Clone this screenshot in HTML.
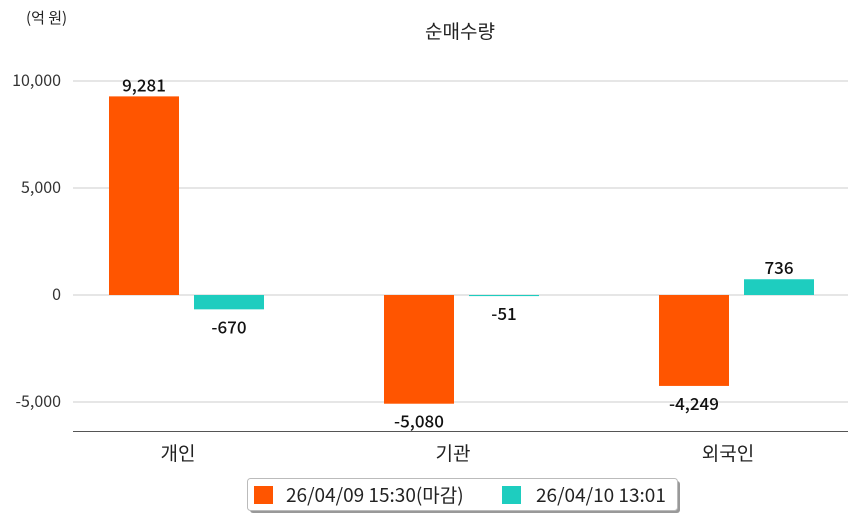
<!DOCTYPE html>
<html><head><meta charset="utf-8"><style>
body{margin:0;background:#fff;}
svg{font-family:"Noto Sans CJK KR","Liberation Sans",sans-serif;display:block}
</style></head><body>
<svg id="c" width="858" height="520"></svg>
<script>
const categories=["개인","기관","외국인"];
const series1=[9281,-5080,-4249];
const series2=[-670,-51,736];
const yTicks=[10000,5000,0,-5000];
const yTickLabels=["10,000","5,000","0","-5,000"];
const svg=document.getElementById('c');
const NS='http://www.w3.org/2000/svg';
function y(v){return 295-v*(214/10000);}
function cx(i){return 186+275*i;}
function mk(t,a,txt){const e=document.createElementNS(NS,t);for(const k in a)e.setAttribute(k,a[k]);if(txt!==undefined)e.textContent=txt;svg.appendChild(e);return e;}
function fmt(v){return v.toLocaleString('en-US');}
let e;
e=mk('text',{x:460,y:38,'text-anchor':'middle','font-size':19,fill:'#222'},'순매수량');


e=mk('text',{x:26,y:23,'font-size':15,fill:'#222'},'(억 원)');


yTicks.forEach((t,i)=>{
 e=mk('line',{x1:73,x2:848,y1:y(t),y2:y(t),stroke:'#cccccc','stroke-width':1});
 
 
 e=mk('text',{x:61,y:y(t)+5,'text-anchor':'end','font-size':16,fill:'#333'},yTickLabels[i]);
 
 
});
e=mk('line',{x1:73,x2:848,y1:431.5,y2:431.5,stroke:'#555','stroke-width':1});


categories.forEach((c,i)=>{
 const vals=[series1[i],series2[i]],cols=['#ff5500','#1ecdbf'],xs=[cx(i)-77,cx(i)+8];
 vals.forEach((v,j)=>{
  const top=Math.min(y(v),y(0)),h=Math.max(Math.abs(y(v)-y(0)),1);
  e=mk('rect',{x:xs[j],y:top,width:70,height:h,fill:cols[j]});
  
  
  const ly=v>=0?y(v)-5:y(v)+24;
  e=mk('text',{x:xs[j]+35,y:ly,'text-anchor':'middle','font-size':17,'font-weight':'500',fill:'#111'},fmt(v));
  
  
 });
 e=mk('text',{x:cx(i)-8,y:460,'text-anchor':'middle','font-size':19,fill:'#222'},c);
 
 
});
e=mk('rect',{x:250,y:481,width:430,height:32,fill:'#999',rx:3});


e=mk('rect',{x:247.5,y:478.5,width:430,height:32,fill:'#fff',stroke:'#bbb',rx:3});


e=mk('rect',{x:254,y:486,width:19,height:18,fill:'#ff5500'});


e=mk('text',{x:286,y:502,'font-size':19,fill:'#222'},'26/04/09 15:30(마감)');


e=mk('rect',{x:502,y:486,width:19,height:18,fill:'#1ecdbf'});


e=mk('text',{x:536,y:502,'font-size':19,fill:'#222'},'26/04/10 13:01');


</script>
</body></html>
